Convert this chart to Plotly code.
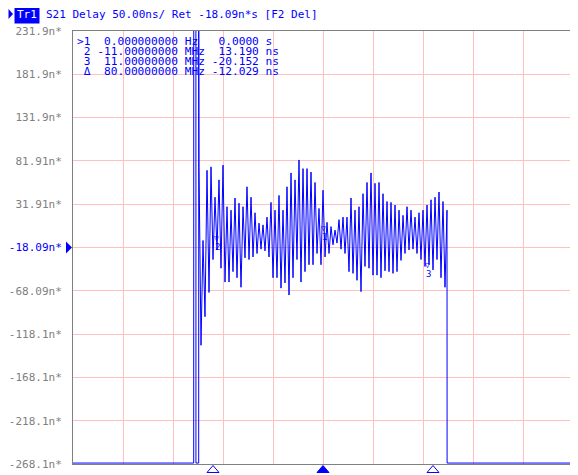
import plotly.graph_objects as go

# ---- data (frequency in MHz, group delay in ns) ----
band_start_mhz = -12.4
band_step_mhz = 0.2
band_delay_ns = [
    74, -131, -10, -98, 71, -70, 75, -32, 40, -21, 60, -42, 77, -58, 29, -58,
    25, -46, 39, -53, 33, -64, 29, -30, 52, -32, 40, -29, 22, -25, 10, -20,
    8, -22, 17, -29, 34, -53, 25, -53, 42, -65, 25, -59, 52, -73, 68, -53,
    60, -32, 83, -58, 73, -46, 73, -38, 69, -38, 57, -25, 27, -38, 48, -29,
    11, -25, 6, -15, 2, -13, 14, -20, 17, -25, 17, -46, 39, -48, 25, -56,
    29, -69, 44, -40, 57, -42, 68, -50, 56, -50, 57, -53, 44, -45, 35, -46,
    34, -48, 31, -46, 25, -33, 19, -25, 29, -21, 25, -20, 17, -25, 22, -32,
    25, -40, 31, -38, 37, -44, 40, -32, 46, -53, 35, -64, 25,
]
# off-scale parts of the sweep (shown pinned to the screen edges)
left_freqs = [-25.0, -12.93, -12.925, -12.71, -12.705, -12.43, -12.425]
left_delay = [-267.0, -267.0, 240.0, 240.0, -267.0, -267.0, 240.0]
right_freqs = [12.41, 25.0]
right_delay = [-267.0, -267.0]

y_ticks = [231.9, 181.9, 131.9, 81.91, 31.91, -18.09, -68.09, -118.1, -168.1, -218.1, -268.1]
y_tick_labels = ["231.9n*", "181.9n*", "131.9n*", "81.91n*", "31.91n*", "-18.09n*",
                 "-68.09n*", "-118.1n*", "-168.1n*", "-218.1n*", "-268.1n*"]
ref_value = -18.09

marker_freqs = [0.0, -11.0, 11.0]
marker_active = [True, False, False]
marker_rows = [
    ">1  0.000000000 Hz   0.0000 s",
    " 2 -11.00000000 MHz  13.190 ns",
    " 3  11.00000000 MHz -20.152 ns",
    " \u0394  80.00000000 MHz -12.029 ns",
]
header_text = "S21 Delay 50.00ns/ Ret -18.09n*s [F2 Del]"

# ---- build ----
band_freqs = [band_start_mhz + band_step_mhz * i for i in range(len(band_delay_ns))]
freqs = left_freqs + band_freqs + right_freqs
delay = left_delay + band_delay_ns + right_delay

BLUE = "#0000ff"
GRAY = "#808080"
PINK = "#ffc0c0"
MONO = "DejaVu Sans Mono"

# page body has an 8px margin; size the figure so the plot area lands on
# screen x 73..573, y 31..464
OFF = 8
SX0, SX1, SY0, SY1 = 73, 573, 31, 464
W, H = 570, 467
L, T = SX0 - OFF, SY0 - OFF
R = W - (SX1 - OFF)
B = H - (SY1 - OFF)
PW, PH = SX1 - SX0, SY1 - SY0


def px(x):
    return (x - SX0) / PW


def py(y):
    return (SY1 - y) / PH


fig = go.Figure()
fig.add_trace(go.Scatter(x=freqs, y=delay, mode="lines",
                         line=dict(color=BLUE, width=1), hoverinfo="skip"))

ticktext = []
for v, t in zip(y_ticks, y_tick_labels):
    if abs(v - ref_value) < 1e-6:
        ticktext.append('<span style="color:%s">%s</span>' % (BLUE, t))
    else:
        ticktext.append(t)

fig.update_layout(
    width=W, height=H,
    margin=dict(l=L, r=R, t=T, b=B, pad=0, autoexpand=False),
    paper_bgcolor="white", plot_bgcolor="white",
    showlegend=False,
    font=dict(family=MONO, size=11, color=GRAY),
    xaxis=dict(range=[-25, 25], dtick=5, tick0=-25, showticklabels=False,
               showgrid=True, gridcolor=PINK, gridwidth=1, zeroline=False,
               showline=True, linecolor=GRAY, linewidth=1, mirror=True, ticks="",
               automargin=False),
    yaxis=dict(range=[-268.1, 231.9], tickmode="array", tickvals=y_ticks,
               ticktext=ticktext, showgrid=True, gridcolor=PINK, gridwidth=1,
               zeroline=False, showline=True, linecolor=GRAY, linewidth=1,
               mirror=True, ticks="outside", ticklen=8,
               tickcolor="rgba(0,0,0,0)", automargin=False,
               tickfont=dict(family=MONO, size=11, color=GRAY)),
)

ann = []
# header
ann.append(dict(x=px(14), y=py(14), xref="paper", yref="paper", text="Tr1",
                showarrow=False, xanchor="left", yanchor="middle",
                font=dict(family=MONO, size=11, color="white"),
                bgcolor=BLUE, borderpad=2))
ann.append(dict(x=px(44), y=py(14), xref="paper", yref="paper", text=header_text,
                showarrow=False, xanchor="left", yanchor="middle",
                font=dict(family=MONO, size=11, color=BLUE)))
# marker table
for i, row in enumerate(marker_rows):
    ann.append(dict(x=px(75), y=py(42 + 9.7 * i), xref="paper", yref="paper",
                    text=row.replace(" ", "&nbsp;"), showarrow=False,
                    xanchor="left", yanchor="middle",
                    font=dict(family=MONO, size=11.2, color=BLUE)))
# marker flags on the trace
for xpos, ypos, lab in [(212, 238, "2"), (323, 228, "1"), (432, 265, "3")]:
    ann.append(dict(x=px(xpos), y=py(ypos), xref="paper", yref="paper", text="\u25bd",
                    showarrow=False, font=dict(family=MONO, size=8, color=BLUE)))
    ann.append(dict(x=px(xpos + 1), y=py(ypos + 9), xref="paper", yref="paper", text=lab,
                    showarrow=False, font=dict(family=MONO, size=9, color=BLUE)))
fig.update_layout(annotations=ann)


def tri(x0, x1, yc, h, right=True):
    if right:
        return "M %f %f L %f %f L %f %f Z" % (x0, yc - h, x1, yc, x0, yc + h)
    return "M %f %f L %f %f L %f %f Z" % (x1, yc - h, x0, yc, x1, yc + h)


yc_ref = SY0 + (231.9 - ref_value) / 500 * PH
shapes = [
    dict(type="path", xref="paper", yref="paper",
         path=tri(px(66), px(72), py(yc_ref), 6 / PH, True),
         fillcolor=BLUE, line=dict(width=0)),
    dict(type="path", xref="paper", yref="paper",
         path=tri(px(572.5), px(578), py(yc_ref), 6 / PH, False),
         fillcolor=BLUE, line=dict(width=0)),
    dict(type="path", xref="paper", yref="paper",
         path=tri(px(8.5), px(13), py(14), 5 / PH, True),
         fillcolor=BLUE, line=dict(width=0)),
]
# stimulus markers under the axis (x in MHz through the data axis)
half_w = 0.6  # MHz (6 px)
for f, active in zip(marker_freqs, marker_active):
    shapes.append(dict(
        type="path", xref="x", yref="paper",
        path="M %f %f L %f %f L %f %f Z" % (f - half_w, py(472.5), f, py(465.5),
                                          f + half_w, py(472.5)),
        fillcolor=BLUE if active else "white",
        line=dict(color=BLUE, width=1)))
fig.update_layout(shapes=shapes)

fig.write_html("out.html")
